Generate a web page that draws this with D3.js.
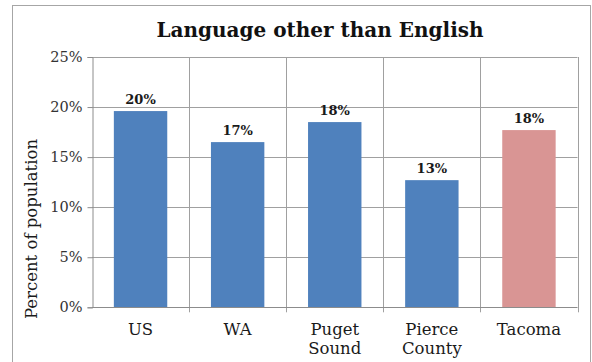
<!DOCTYPE html>
<html>
<head>
<meta charset="utf-8">
<script src="https://cdn.jsdelivr.net/npm/d3@7"></script>
<style>
  html, body { margin: 0; padding: 0; background: #fff; }
  svg { display: block; }
</style>
</head>
<body>
<svg id="chart" width="592" height="362"></svg>
<script>
// Share of residents who speak a language other than English at home
const categories = ["US", "WA", "Puget Sound", "Pierce County", "Tacoma"];
const values = [19.6, 16.5, 18.5, 12.7, 17.7];
const valueLabels = ["20%", "17%", "18%", "13%", "18%"];
const highlight = ["Tacoma"];
const yTicks = [0, 5, 10, 15, 20, 25];

const W = 592, H = 362;
const margin = { left: 92, right: 14.5, top: 57, bottom: 54.7 };
const svg = d3.select("#chart");
const serif = "'DejaVu Serif', serif";

// chart frame
svg.append("rect")
  .attr("x", 12.5).attr("y", 5.5)
  .attr("width", 578).attr("height", 370)
  .attr("fill", "#fff").attr("stroke", "#a6a6a6").attr("stroke-width", 1);

const x = d3.scaleBand()
  .domain(categories)
  .range([margin.left, W - margin.right])
  .paddingInner(0).paddingOuter(0);

const y = d3.scaleLinear()
  .domain([0, 25])
  .range([H - margin.bottom, margin.top]);

// horizontal gridlines
svg.append("g")
  .selectAll("line")
  .data(yTicks.slice(1))
  .join("line")
  .attr("x1", margin.left).attr("x2", W - margin.right)
  .attr("y1", d => Math.round(y(d)) + 0.5).attr("y2", d => Math.round(y(d)) + 0.5)
  .attr("stroke", "#a0a0a0").attr("stroke-width", 1);

// vertical category separators
const bounds = categories.map(c => x(c)).concat([x.range()[1]]);
svg.append("g")
  .selectAll("line")
  .data(bounds.slice(1))
  .join("line")
  .attr("x1", d => Math.round(d) + 0.5).attr("x2", d => Math.round(d) + 0.5)
  .attr("y1", margin.top).attr("y2", H - margin.bottom + 5)
  .attr("stroke", "#a0a0a0").attr("stroke-width", 1);

// bars
const barW = x.bandwidth() * 0.55;
svg.append("g")
  .selectAll("rect")
  .data(categories)
  .join("rect")
  .attr("x", (d) => x(d) + (x.bandwidth() - barW) / 2)
  .attr("width", barW)
  .attr("y", (d, i) => y(values[i]))
  .attr("height", (d, i) => y(0) - y(values[i]))
  .attr("fill", d => highlight.includes(d) ? "#d99594" : "#4f81bd");

// value labels
svg.append("g")
  .selectAll("text")
  .data(categories)
  .join("text")
  .attr("x", d => x(d) + x.bandwidth() / 2)
  .attr("y", (d, i) => y(values[i]) - 7)
  .attr("text-anchor", "middle")
  .attr("font-family", serif)
  .attr("font-weight", "bold")
  .attr("font-size", 13)
  .attr("fill", "#1a1a1a")
  .text((d, i) => valueLabels[i]);

// y axis
const yAxis = svg.append("g")
  .attr("transform", `translate(${margin.left + 0.5},0)`)
  .call(d3.axisLeft(y).tickValues(yTicks).tickSize(5).tickPadding(5).tickFormat(d => d + "%"));
yAxis.select(".domain").attr("stroke", "#8c8c8c");
yAxis.selectAll(".tick line").attr("stroke", "#8c8c8c");
yAxis.selectAll(".tick text")
  .attr("font-family", serif).attr("font-size", 14.5).attr("fill", "#333");

// x axis baseline
svg.append("line")
  .attr("x1", margin.left).attr("x2", W - margin.right)
  .attr("y1", Math.round(y(0)) + 0.5).attr("y2", Math.round(y(0)) + 0.5)
  .attr("stroke", "#8c8c8c");

// category labels, split onto two lines where needed
const catLabels = svg.append("g")
  .selectAll("text")
  .data(categories)
  .join("text")
  .attr("x", d => x(d) + x.bandwidth() / 2)
  .attr("y", 335)
  .attr("text-anchor", "middle")
  .attr("font-family", serif)
  .attr("font-size", 16.5)
  .attr("fill", "#1a1a1a");
catLabels.each(function(d) {
  const words = d.split(" ");
  const t = d3.select(this);
  words.forEach((w, i) => {
    t.append("tspan")
      .attr("x", x(d) + x.bandwidth() / 2)
      .attr("dy", i === 0 ? 0 : 19)
      .text(w);
  });
});

// axis title
svg.append("text")
  .attr("transform", `translate(37,229) rotate(-90)`)
  .attr("text-anchor", "middle")
  .attr("font-family", serif)
  .attr("font-size", 16.5)
  .attr("fill", "#1a1a1a")
  .text("Percent of population");

// chart title
svg.append("text")
  .attr("x", 320).attr("y", 37)
  .attr("text-anchor", "middle")
  .attr("font-family", serif)
  .attr("font-weight", "bold")
  .attr("font-size", 20)
  .attr("fill", "#111")
  .text("Language other than English");
</script>
</body>
</html>
